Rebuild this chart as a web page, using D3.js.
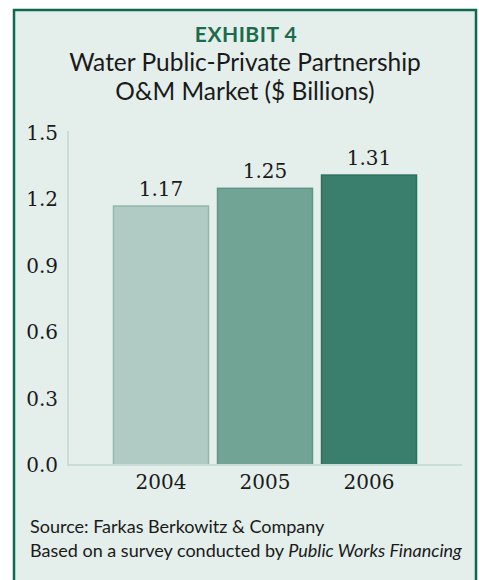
<!DOCTYPE html>
<html lang="en">
<head>
    <meta charset="UTF-8">
    <title>Exhibit 4 - Water PPP O&amp;M Market</title>
    <script src="https://d3js.org/d3.v7.min.js"></script>
    <style>
        body { margin: 0; background: #fff; }
        .title { font-family: Lato, "Open Sans", sans-serif; text-anchor: middle; fill: #1a1a1a; }
        .num { font-family: "DejaVu Serif", "Liberation Serif", serif; fill: #1a1a1a; }
        .note { font-family: Lato, "Open Sans", sans-serif; font-size: 18px; fill: #1a1a1a; }
    </style>
</head>
<body>
    <svg width="479" height="580"></svg>

    <script>
        // Data
        const years = ["2004", "2005", "2006"];
        const values = [1.17, 1.25, 1.31];
        const barColors = ["#b0cbc4", "#72a496", "#3a7f6d"];
        const barStrokes = ["#93b7ad", "#5e9586", "#2f7060"];
        const yTicks = [0.0, 0.3, 0.6, 0.9, 1.2, 1.5];

        const svg = d3.select("svg");

        // panel with green frame (bottom edge runs off the page)
        svg.append("rect")
            .attr("x", 14).attr("y", 10)
            .attr("width", 462).attr("height", 600)
            .attr("fill", "#e4eeeb")
            .attr("stroke", "#0d6a4e")
            .attr("stroke-width", 2.5);

        // titles
        svg.append("text").attr("class", "title")
            .attr("x", 246).attr("y", 42)
            .style("font-size", "21px").style("font-weight", "bold")
            .style("letter-spacing", "0.5px")
            .style("fill", "#1b6b4d")
            .text("EXHIBIT 4");
        svg.append("text").attr("class", "title")
            .attr("x", 245).attr("y", 71)
            .style("font-size", "24.5px")
            .text("Water Public-Private Partnership");
        svg.append("text").attr("class", "title")
            .attr("x", 245).attr("y", 100)
            .style("font-size", "24.5px")
            .text("O&M Market ($ Billions)");

        // scales
        const x = d3.scaleBand()
            .domain(years)
            .range([68, 462])
            .paddingInner(0.087)
            .paddingOuter(0.4375);

        const y = d3.scaleLinear()
            .domain([0, 1.5])
            .range([465, 133]);

        // axis lines
        svg.append("line")
            .attr("x1", 68).attr("x2", 68)
            .attr("y1", y(1.5) - 2).attr("y2", y(0))
            .attr("stroke", "#cadcd7").attr("stroke-width", 2);

        // y axis labels
        const yAxis = d3.axisLeft(y)
            .tickValues(yTicks)
            .tickFormat(d3.format(".1f"))
            .tickSize(0)
            .tickPadding(10);

        const gy = svg.append("g")
            .attr("transform", "translate(68,0)")
            .call(yAxis);
        gy.select(".domain").remove();
        gy.selectAll("text")
            .attr("class", "num")
            .attr("fill", "#1a1a1a")
            .style("font-size", "20px");

        // bars
        svg.append("g")
            .selectAll("rect")
            .data(values)
            .enter().append("rect")
            .attr("x", (d, i) => x(years[i]))
            .attr("y", d => y(d))
            .attr("width", x.bandwidth())
            .attr("height", d => y(0) - y(d))
            .attr("fill", (d, i) => barColors[i])
            .attr("stroke", (d, i) => barStrokes[i])
            .attr("stroke-width", 1.5);

        // baseline
        svg.append("line")
            .attr("x1", 67).attr("x2", 462)
            .attr("y1", y(0)).attr("y2", y(0))
            .attr("stroke", "#cadcd7").attr("stroke-width", 2);

        // value labels
        svg.append("g")
            .selectAll("text")
            .data(values)
            .enter().append("text")
            .attr("class", "num")
            .attr("x", (d, i) => x(years[i]) + x.bandwidth() / 2)
            .attr("y", d => y(d) - 10)
            .attr("text-anchor", "middle")
            .style("font-size", "20px")
            .text(d => d.toFixed(2));

        // x axis labels
        const xAxis = d3.axisBottom(x).tickSize(0).tickPadding(10);
        const gx = svg.append("g")
            .attr("transform", `translate(0,${y(0)})`)
            .call(xAxis);
        gx.select(".domain").remove();
        gx.selectAll("text")
            .attr("class", "num")
            .attr("fill", "#1a1a1a")
            .style("font-size", "20px");

        // source notes
        svg.append("text").attr("class", "note")
            .attr("x", 30).attr("y", 533)
            .text("Source: Farkas Berkowitz & Company");
        const note2 = svg.append("text").attr("class", "note")
            .attr("x", 30).attr("y", 557);
        note2.append("tspan").text("Based on a survey conducted by ");
        note2.append("tspan").style("font-style", "italic").text("Public Works Financing");
    </script>
</body>
</html>
